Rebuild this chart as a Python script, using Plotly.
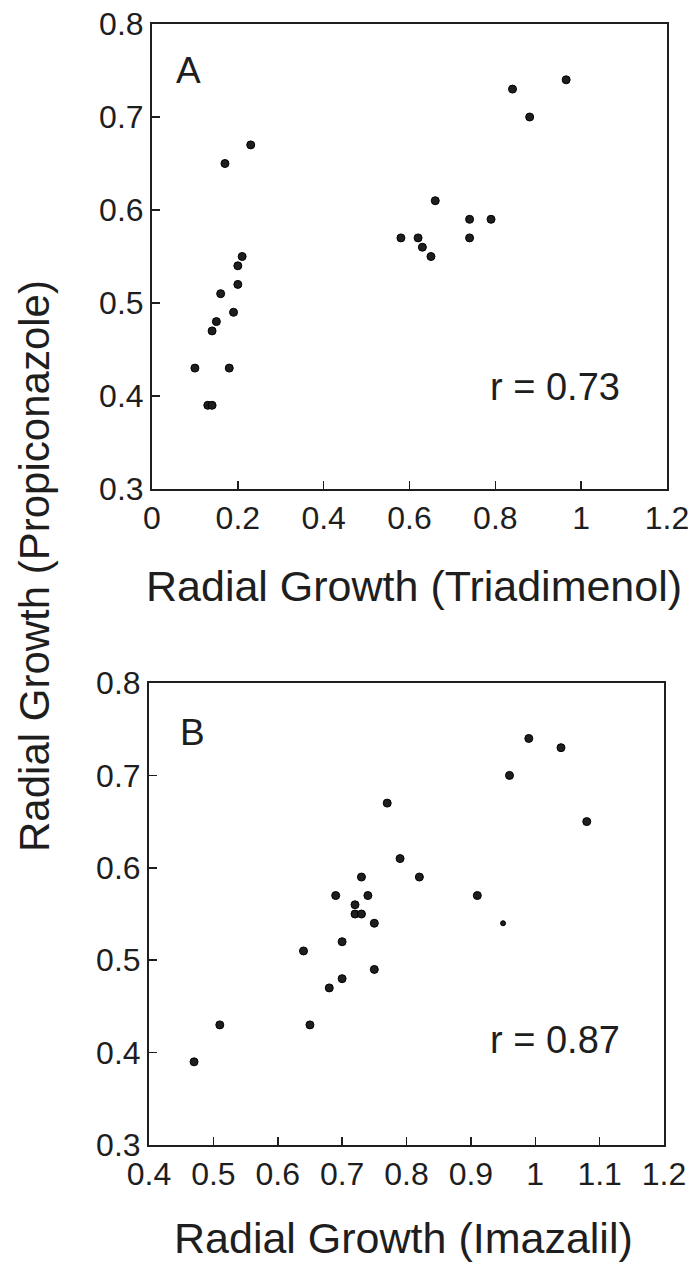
import plotly.graph_objects as go

# Panel A: Triadimenol (x) vs Propiconazole (y)
triadimenol = [0.17, 0.23, 0.21, 0.20, 0.20, 0.16, 0.19, 0.15, 0.14, 0.10, 0.18, 0.13, 0.14,
               0.58, 0.62, 0.63, 0.65, 0.66, 0.74, 0.74, 0.79, 0.84, 0.88, 0.965]
propiconazole_a = [0.65, 0.67, 0.55, 0.54, 0.52, 0.51, 0.49, 0.48, 0.47, 0.43, 0.43, 0.39, 0.39,
                   0.57, 0.57, 0.56, 0.55, 0.61, 0.59, 0.57, 0.59, 0.73, 0.70, 0.74]

# Panel B: Imazalil (x) vs Propiconazole (y)
imazalil = [0.47, 0.51, 0.64, 0.65, 0.68, 0.69, 0.70, 0.70, 0.72, 0.72, 0.73, 0.73, 0.74, 0.75,
            0.75, 0.77, 0.79, 0.82, 0.91, 0.95, 0.96, 0.99, 1.04, 1.08]
propiconazole_b = [0.39, 0.43, 0.51, 0.43, 0.47, 0.57, 0.52, 0.48, 0.56, 0.55, 0.55, 0.59, 0.57, 0.54,
                   0.49, 0.67, 0.61, 0.59, 0.57, 0.54, 0.70, 0.74, 0.73, 0.65]

xticks_a = [0, 0.2, 0.4, 0.6, 0.8, 1.0, 1.2]
xticklabels_a = ["0", "0.2", "0.4", "0.6", "0.8", "1", "1.2"]
xticks_b = [0.4, 0.5, 0.6, 0.7, 0.8, 0.9, 1.0, 1.1, 1.2]
xticklabels_b = ["0.4", "0.5", "0.6", "0.7", "0.8", "0.9", "1", "1.1", "1.2"]
yticks = [0.3, 0.4, 0.5, 0.6, 0.7, 0.8]
yticklabels = ["0.3", "0.4", "0.5", "0.6", "0.7", "0.8"]

r_a = "r = 0.73"
r_b = "r = 0.87"

# body margin is removed by post_script, so the figure fills the window exactly
W, H = 693, 1268
FONT = "Liberation Sans, Arial, Helvetica, sans-serif"
INK = "#1e1e1e"

def px_x(p):
    return p / W

def px_y(p):
    return 1 - p / H

sizes_b = [8] * len(imazalil)
sizes_b[imazalil.index(0.95)] = 5

fig = go.Figure()
fig.add_trace(go.Scatter(x=triadimenol, y=propiconazole_a, mode="markers",
                         marker=dict(size=8, color=INK, opacity=1,
                                     line=dict(width=1, color="#000")),
                         xaxis="x", yaxis="y", showlegend=False))
fig.add_trace(go.Scatter(x=imazalil, y=propiconazole_b, mode="markers",
                         marker=dict(size=sizes_b, color=INK, opacity=1,
                                     line=dict(width=1, color="#000")),
                         xaxis="x2", yaxis="y2", showlegend=False))

axis_common = dict(showline=True, mirror=True, linecolor=INK, linewidth=2,
                   ticks="inside", ticklen=8, tickwidth=1.5, tickcolor=INK,
                   showgrid=False, zeroline=False, automargin=False,
                   ticklabeloverflow="allow",
                   tickfont=dict(family=FONT, size=32, color=INK))

fig.update_layout(
    width=W, height=H,
    margin=dict(l=0, r=0, t=0, b=0, pad=0, autoexpand=False),
    paper_bgcolor="white", plot_bgcolor="white",
    xaxis=dict(domain=[px_x(152), px_x(667)], range=[0, 1.2], anchor="y",
               tickvals=xticks_a, ticktext=xticklabels_a, **axis_common),
    yaxis=dict(domain=[px_y(489), px_y(24)], range=[0.3, 0.8], anchor="x",
               tickvals=yticks, ticktext=yticklabels, **axis_common),
    xaxis2=dict(domain=[px_x(149), px_x(664)], range=[0.4, 1.2], anchor="y2",
                tickvals=xticks_b, ticktext=xticklabels_b, **axis_common),
    yaxis2=dict(domain=[px_y(1145), px_y(683)], range=[0.3, 0.8], anchor="x2",
                tickvals=yticks, ticktext=yticklabels, **axis_common),
)

def note(text, x, y, size, xref="paper", yref="paper", angle=0):
    return dict(text=text, x=x, y=y, xref=xref, yref=yref, showarrow=False,
                xanchor="center", yanchor="middle", textangle=angle,
                font=dict(family=FONT, size=size, color=INK))

ann = [
    note("A", 0.084, 0.75, 37, "x", "y"),
    note(r_a, 0.94, 0.41, 38, "x", "y"),
    note("B", 0.468, 0.746, 37, "x2", "y2"),
    note(r_b, 1.03, 0.414, 38, "x2", "y2"),
    note("Radial Growth (Triadimenol)", px_x(414), px_y(586), 43),
    note("Radial Growth (Imazalil)", px_x(403), px_y(1238), 43),
    note("Radial Growth (Propiconazole)", px_x(34), px_y(566), 42, angle=-90),
]
fig.update_layout(annotations=ann)

fig.write_html("out.html",
               config={"displayModeBar": False, "staticPlot": True},
               post_script="document.body.style.margin='0';document.body.style.overflow='hidden';")
